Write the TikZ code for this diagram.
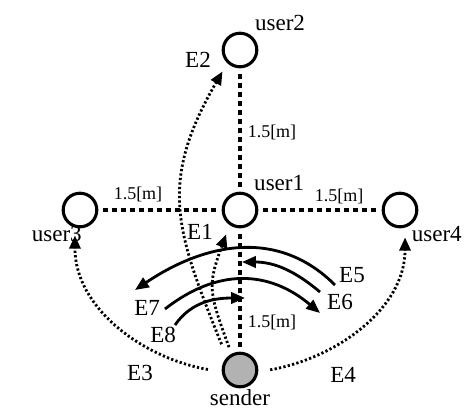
\documentclass[tikz,border=0pt]{standalone}
\usepackage{fontspec}
\setmainfont{Liberation Serif}
\usetikzlibrary{arrows.meta}
\usetikzlibrary{calc}

\begin{document}
\begin{tikzpicture}[
  user/.style={circle,draw,line width=1.1pt,minimum size=0.42cm,inner sep=0pt},
  nom/.style={font=\fontsize{8.2}{9}\selectfont,inner sep=0pt},
  dist/.style={font=\fontsize{6.4}{7}\selectfont,inner sep=0pt},
  grille/.style={line width=1.1pt,dash pattern=on 1.8pt off 1.4pt,shorten <=1.5pt,shorten >=1.5pt},
  direct/.style={line width=1pt,dash pattern=on 0.8pt off 0.8pt,-{Triangle[length=4.7pt,width=4pt]}},
  reflet/.style={line width=1pt,-{Triangle[length=4.9pt,width=4pt]}}]

\useasboundingbox (-3,-0.475) rectangle (2.8625,4.625);

%Couleur de l'emetteur
\def \EmetColor {black!30}

%%%%%%%%%%%%%%%%%%%%%%%%
%Emetteur et recepteurs
%%%%%%%%%%%%%%%%%%%%%%%%
\node[user,fill=\EmetColor] (sender) at (0,0) {};
\node[user] (user1) at (0,2) {};
\node[user] (user2) at (0,4) {};
\node[user] (user3) at (-2,2) {};
\node[user] (user4) at (2,2) {};

\node[nom] (nsender) at (0,-0.35) {sender};
\node[nom] (nuser1) at (0.49,2.34) {user1};
\node[nom] (nuser2) at (0.5,4.34) {user2};
\node[nom] (nuser3) at (-2.29,1.7) {user3};
\node[nom] (nuser4) at (2.46,1.7) {user4};

% grille 1.5 m
\draw[grille] (sender) -- (user1);
\draw[grille] (user1) -- (user2);
\draw[grille] (user3) -- (user1);
\draw[grille] (user1) -- (user4);
\node[dist] (d01) at (0.4,0.6) {1.5[m]};
\node[dist] (d12) at (0.4,2.975) {1.5[m]};
\node[dist] (d31) at (-1.275,2.19) {1.5[m]};
\node[dist] (d14) at (1.24,2.175) {1.5[m]};

%%%%%%%%%%%%%%%%%%%%%%%%
%Trajets directs
%%%%%%%%%%%%%%%%%%%%%%%%
\draw[direct,shorten <=2.5pt,shorten >=3.5pt] (sender.118) to[out=110,in=-110,looseness=1.3] (user1.-125);
\draw[direct,shorten <=5pt,shorten >=3.4pt] (sender.136) to[out=112,in=-120,looseness=1.2] (user2.-134);
\draw[direct,shorten <=5pt,shorten >=2.8pt] (sender.186) to[out=170,in=-90] (user3.-106);
\draw[direct,shorten <=4.3pt,shorten >=3.5pt] (sender.-6) to[out=10,in=-90] (user4.-74);
\node[nom] (e1) at (-0.5,1.725) {E1};
\node[nom] (e2) at (-0.525,3.875) {E2};
\node[nom] (e3) at (-1.25,-0.04) {E3};
\node[nom] (e4) at (1.29,-0.06) {E4};

%%%%%%%%%%%%%%%%%%%%%%%%
%Trajets reflechis
%%%%%%%%%%%%%%%%%%%%%%%%
\coordinate (e5a) at (1.1875,1.0625);
\coordinate (e5b) at (-1.3125,1.0);
\coordinate (e6a) at (1.0,0.975);
\coordinate (e6b) at (0.025,1.35);
\coordinate (e7a) at (-0.9375,0.7625);
\coordinate (e7b) at (1.0,0.7125);
\coordinate (e8a) at (-0.8125,0.5625);
\coordinate (e8b) at (0.0625,0.9);
\draw[reflet] (e5a) to[out=135,in=34,looseness=1.05] (e5b);
\draw[reflet] (e6a) to[out=140,in=0] (e6b);
\draw[reflet] (e7a) to[out=38,in=140,looseness=1.1] (e7b);
\draw[reflet] (e8a) to[out=55,in=180] (e8b);
\node[nom] (e5) at (1.4,1.19) {E5};
\node[nom] (e6) at (1.25,0.85) {E6};
\node[nom] (e7) at (-1.16,0.775) {E7};
\node[nom] (e8) at (-0.96,0.44) {E8};

\end{tikzpicture}
\end{document}
